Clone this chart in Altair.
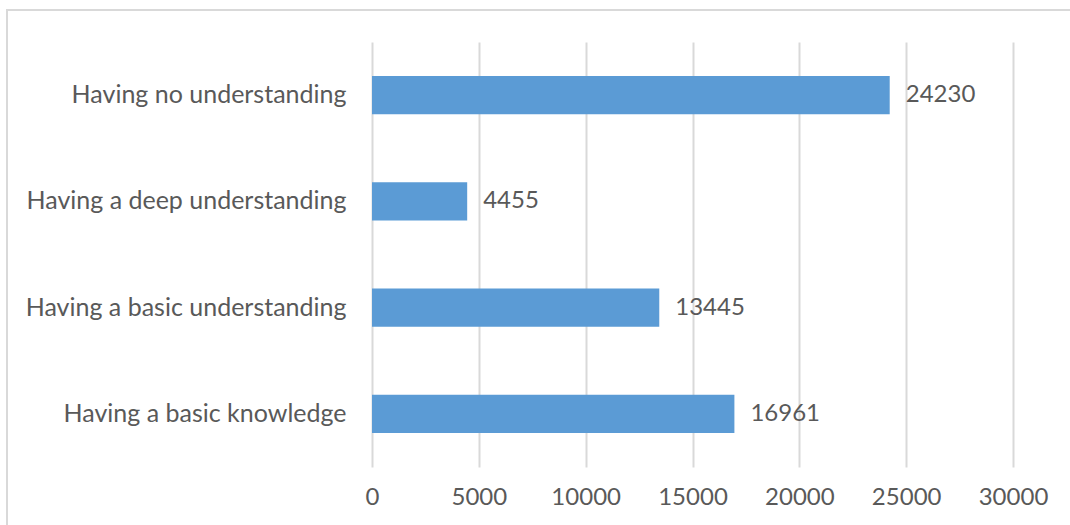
import altair as alt
import pandas as pd

categories = ["Having no understanding", "Having a deep understanding",
              "Having a basic understanding", "Having a basic knowledge"]
values = [24230, 4455, 13445, 16961]
x_ticks = [0, 5000, 10000, 15000, 20000, 25000, 30000]

df = pd.DataFrame({"category": categories, "value": values})

FONT = "Lato"
GREY = "#595959"
FS = 24

x = alt.X("value:Q", scale=alt.Scale(domain=[0, 30000], nice=False),
          axis=alt.Axis(values=x_ticks, title=None, ticks=False, domain=False,
                        grid=True, gridColor="#D9D9D9", gridWidth=2,
                        labelFont=FONT, labelFontSize=FS, labelColor=GREY,
                        labelPadding=18, format="d", labelFlush=False,
                        labelOverlap=False))
y = alt.Y("category:N", sort=categories,
          scale=alt.Scale(paddingInner=0.64, paddingOuter=0.32),
          axis=alt.Axis(title=None, ticks=False, domain=False, grid=False,
                        labelFont=FONT, labelFontSize=25, labelColor=GREY,
                        labelPadding=26, labelLimit=400))

bars = alt.Chart(df).mark_bar(color="#5B9BD5").encode(x=x, y=y)
labels = alt.Chart(df).mark_text(align="left", dx=16, font=FONT, fontSize=FS,
                                 color=GREY).encode(x="value:Q", y=alt.Y("category:N", sort=categories),
                                                    text="value:Q")
border = alt.Chart(df.head(1)).mark_rect(fill=None, stroke="#D9D9D9", strokeWidth=2).encode(
    x=alt.value(-365), x2=alt.value(720), y=alt.value(-32), y2=alt.value(540))

chart = alt.layer(border, bars, labels).properties(
    width=641, height=425,
    autosize=alt.AutoSizeParams(type="none"),
    padding={"left": 372, "top": 42, "right": 57, "bottom": 58},
).configure_view(stroke=None)

chart.save("out.html", embed_options={"renderer": "svg", "actions": False})
